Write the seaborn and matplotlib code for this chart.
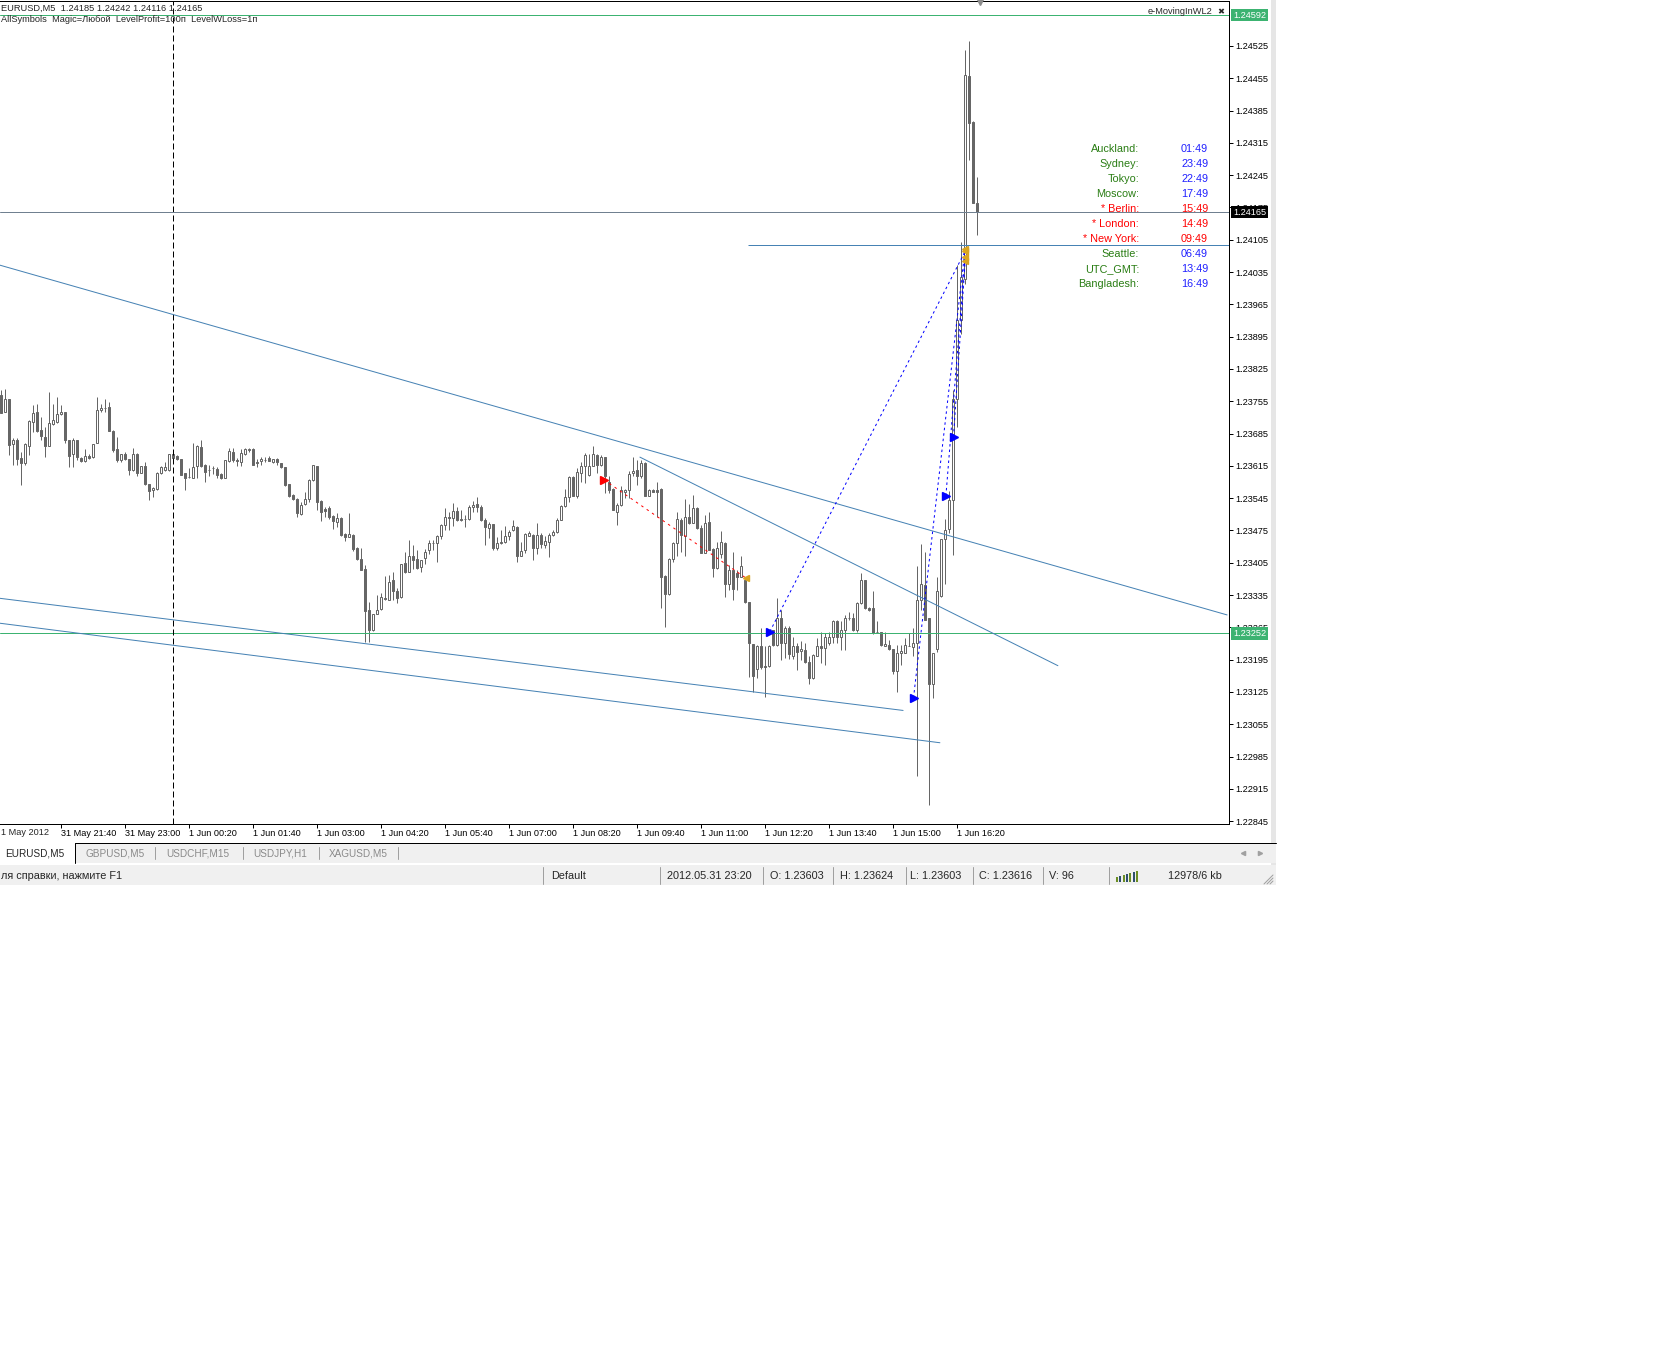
import numpy as np
import matplotlib
matplotlib.use("Agg")
import matplotlib.pyplot as plt
from matplotlib.patches import Rectangle
from matplotlib.lines import Line2D
import seaborn as sns

# ---- EURUSD M5 bars (open, high, low, close), oldest first ----
open_ = [1.23769, 1.23732, 1.23761, 1.23662, 1.23672, 1.23633, 1.23622, 1.23659, 1.23711, 1.23731,
         1.23693, 1.23678, 1.23659, 1.23705, 1.23711, 1.23727, 1.23731, 1.23671, 1.23640, 1.23671,
         1.23633, 1.23626, 1.23636, 1.23635, 1.23664, 1.23736, 1.23740, 1.23742, 1.23691, 1.23652,
         1.23628, 1.23641, 1.23630, 1.23606, 1.23641, 1.23600, 1.23615, 1.23575, 1.23563, 1.23565,
         1.23599, 1.23606, 1.23606, 1.23641, 1.23636, 1.23630, 1.23599, 1.23590, 1.23589, 1.23615,
         1.23655, 1.23617, 1.23606, 1.23610, 1.23608, 1.23597, 1.23589, 1.23626, 1.23646, 1.23628,
         1.23624, 1.23641, 1.23649, 1.23651, 1.23624, 1.23626, 1.23628, 1.23633, 1.23624, 1.23630,
         1.23621, 1.23612, 1.23576, 1.23552, 1.23543, 1.23510, 1.23532, 1.23543, 1.23584, 1.23615,
         1.23539, 1.23522, 1.23523, 1.23507, 1.23494, 1.23503, 1.23467, 1.23460, 1.23465, 1.23436,
         1.23413, 1.23392, 1.23303, 1.23259, 1.23293, 1.23305, 1.23329, 1.23325, 1.23367, 1.23343,
         1.23330, 1.23405, 1.23384, 1.23420, 1.23413, 1.23396, 1.23415, 1.23433, 1.23448, 1.23448,
         1.23462, 1.23486, 1.23504, 1.23502, 1.23518, 1.23499, 1.23500, 1.23500, 1.23526, 1.23532,
         1.23526, 1.23498, 1.23480, 1.23488, 1.23438, 1.23447, 1.23450, 1.23462, 1.23475, 1.23483,
         1.23420, 1.23432, 1.23464, 1.23466, 1.23437, 1.23466, 1.23444, 1.23449, 1.23466, 1.23471,
         1.23498, 1.23527, 1.23547, 1.23590, 1.23549, 1.23599, 1.23614, 1.23596, 1.23615, 1.23639,
         1.23617, 1.23634, 1.23581, 1.23564, 1.23514, 1.23531, 1.23559, 1.23563, 1.23599, 1.23606,
         1.23592, 1.23622, 1.23550, 1.23563, 1.23563, 1.23564, 1.23377, 1.23338, 1.23413, 1.23448,
         1.23498, 1.23463, 1.23504, 1.23492, 1.23523, 1.23480, 1.23427, 1.23494, 1.23435, 1.23393,
         1.23424, 1.23448, 1.23359, 1.23390, 1.23383, 1.23375, 1.23367, 1.23321, 1.23229, 1.23175,
         1.23225, 1.23182, 1.23182, 1.23260, 1.23227, 1.23285, 1.23231, 1.23263, 1.23203, 1.23224,
         1.23213, 1.23216, 1.23191, 1.23155, 1.23203, 1.23224, 1.23220, 1.23231, 1.23244, 1.23278,
         1.23245, 1.23260, 1.23285, 1.23285, 1.23260, 1.23318, 1.23367, 1.23307, 1.23307, 1.23256,
         1.23256, 1.23224, 1.23227, 1.23218, 1.23170, 1.23209, 1.23209, 1.23225, 1.23222, 1.23232,
         1.23325, 1.23357, 1.23285, 1.23142, 1.23218, 1.23332, 1.23456, 1.23478, 1.23540, 1.23760,
         1.23931, 1.24021, 1.24460, 1.24361, 1.24185]
high_ = [1.23779, 1.23781, 1.23761, 1.23675, 1.23675, 1.23646, 1.23664, 1.23714, 1.23747, 1.23749,
         1.23722, 1.23700, 1.23776, 1.23750, 1.23765, 1.23747, 1.23731, 1.23671, 1.23675, 1.23672,
         1.23635, 1.23651, 1.23640, 1.23662, 1.23765, 1.23750, 1.23761, 1.23754, 1.23693, 1.23678,
         1.23641, 1.23646, 1.23631, 1.23653, 1.23642, 1.23615, 1.23624, 1.23576, 1.23569, 1.23602,
         1.23615, 1.23624, 1.23641, 1.23649, 1.23639, 1.23631, 1.23600, 1.23610, 1.23665, 1.23660,
         1.23672, 1.23619, 1.23617, 1.23615, 1.23612, 1.23599, 1.23628, 1.23653, 1.23653, 1.23633,
         1.23651, 1.23653, 1.23654, 1.23653, 1.23629, 1.23635, 1.23635, 1.23636, 1.23631, 1.23633,
         1.23622, 1.23612, 1.23576, 1.23554, 1.23545, 1.23537, 1.23559, 1.23586, 1.23617, 1.23615,
         1.23540, 1.23525, 1.23527, 1.23509, 1.23512, 1.23505, 1.23469, 1.23512, 1.23467, 1.23440,
         1.23438, 1.23400, 1.23320, 1.23293, 1.23336, 1.23340, 1.23376, 1.23379, 1.23386, 1.23350,
         1.23403, 1.23428, 1.23454, 1.23444, 1.23433, 1.23412, 1.23435, 1.23454, 1.23454, 1.23466,
         1.23488, 1.23524, 1.23516, 1.23535, 1.23526, 1.23519, 1.23509, 1.23531, 1.23538, 1.23548,
         1.23531, 1.23501, 1.23493, 1.23490, 1.23461, 1.23477, 1.23485, 1.23477, 1.23498, 1.23485,
         1.23451, 1.23470, 1.23473, 1.23468, 1.23491, 1.23470, 1.23462, 1.23469, 1.23476, 1.23502,
         1.23531, 1.23564, 1.23592, 1.23592, 1.23610, 1.23624, 1.23642, 1.23641, 1.23658, 1.23641,
         1.23639, 1.23635, 1.23592, 1.23567, 1.23534, 1.23572, 1.23564, 1.23603, 1.23635, 1.23627,
         1.23627, 1.23624, 1.23564, 1.23565, 1.23579, 1.23567, 1.23379, 1.23415, 1.23449, 1.23514,
         1.23502, 1.23543, 1.23533, 1.23552, 1.23525, 1.23487, 1.23509, 1.23514, 1.23437, 1.23449,
         1.23473, 1.23449, 1.23401, 1.23429, 1.23390, 1.23419, 1.23370, 1.23321, 1.23229, 1.23227,
         1.23263, 1.23224, 1.23227, 1.23260, 1.23328, 1.23303, 1.23267, 1.23267, 1.23245, 1.23231,
         1.23235, 1.23231, 1.23202, 1.23208, 1.23242, 1.23256, 1.23253, 1.23256, 1.23280, 1.23280,
         1.23278, 1.23292, 1.23299, 1.23297, 1.23319, 1.23383, 1.23368, 1.23309, 1.23343, 1.23278,
         1.23256, 1.23256, 1.23237, 1.23218, 1.23227, 1.23227, 1.23242, 1.23253, 1.23263, 1.23397,
         1.23446, 1.23428, 1.23285, 1.23209, 1.23374, 1.23456, 1.23500, 1.23560, 1.23780, 1.24050,
         1.24101, 1.24517, 1.24536, 1.24363, 1.24242]
low_ = [1.23729, 1.23732, 1.23639, 1.23617, 1.23617, 1.23574, 1.23617, 1.23639, 1.23689, 1.23689,
        1.23671, 1.23635, 1.23659, 1.23704, 1.23707, 1.23725, 1.23664, 1.23612, 1.23612, 1.23628,
        1.23624, 1.23624, 1.23630, 1.23633, 1.23664, 1.23732, 1.23732, 1.23691, 1.23646, 1.23624,
        1.23624, 1.23628, 1.23595, 1.23605, 1.23592, 1.23599, 1.23574, 1.23541, 1.23547, 1.23563,
        1.23597, 1.23605, 1.23605, 1.23631, 1.23628, 1.23595, 1.23563, 1.23588, 1.23589, 1.23588,
        1.23613, 1.23579, 1.23592, 1.23597, 1.23588, 1.23586, 1.23588, 1.23623, 1.23624, 1.23615,
        1.23615, 1.23639, 1.23646, 1.23617, 1.23612, 1.23617, 1.23624, 1.23626, 1.23622, 1.23617,
        1.23610, 1.23571, 1.23548, 1.23541, 1.23505, 1.23509, 1.23530, 1.23537, 1.23582, 1.23519,
        1.23496, 1.23505, 1.23499, 1.23478, 1.23483, 1.23462, 1.23453, 1.23460, 1.23431, 1.23411,
        1.23389, 1.23233, 1.23233, 1.23257, 1.23293, 1.23303, 1.23324, 1.23325, 1.23325, 1.23318,
        1.23329, 1.23383, 1.23384, 1.23392, 1.23392, 1.23384, 1.23403, 1.23423, 1.23433, 1.23406,
        1.23457, 1.23477, 1.23475, 1.23485, 1.23495, 1.23495, 1.23483, 1.23498, 1.23516, 1.23516,
        1.23495, 1.23444, 1.23459, 1.23433, 1.23433, 1.23446, 1.23448, 1.23455, 1.23473, 1.23406,
        1.23419, 1.23426, 1.23462, 1.23412, 1.23423, 1.23437, 1.23437, 1.23417, 1.23463, 1.23469,
        1.23497, 1.23526, 1.23536, 1.23549, 1.23545, 1.23581, 1.23577, 1.23593, 1.23614, 1.23599,
        1.23615, 1.23557, 1.23556, 1.23520, 1.23487, 1.23528, 1.23545, 1.23545, 1.23593, 1.23574,
        1.23588, 1.23549, 1.23549, 1.23559, 1.23504, 1.23307, 1.23266, 1.23336, 1.23406, 1.23419,
        1.23429, 1.23419, 1.23489, 1.23491, 1.23478, 1.23426, 1.23426, 1.23432, 1.23375, 1.23391,
        1.23415, 1.23331, 1.23346, 1.23325, 1.23346, 1.23374, 1.23318, 1.23157, 1.23126, 1.23155,
        1.23175, 1.23115, 1.23180, 1.23224, 1.23224, 1.23195, 1.23198, 1.23196, 1.23196, 1.23173,
        1.23195, 1.23188, 1.23143, 1.23153, 1.23202, 1.23188, 1.23184, 1.23227, 1.23231, 1.23231,
        1.23216, 1.23216, 1.23282, 1.23258, 1.23256, 1.23316, 1.23305, 1.23300, 1.23251, 1.23253,
        1.23225, 1.23224, 1.23215, 1.23165, 1.23124, 1.23184, 1.23209, 1.23224, 1.23202, 1.22943,
        1.23303, 1.23281, 1.22881, 1.23112, 1.23211, 1.23330, 1.23359, 1.23470, 1.23422, 1.23700,
        1.23900, 1.24010, 1.24278, 1.24185, 1.24116]
close_ = [1.23729, 1.23761, 1.23660, 1.23671, 1.23631, 1.23622, 1.23662, 1.23713, 1.23729, 1.23691,
          1.23680, 1.23658, 1.23707, 1.23714, 1.23727, 1.23731, 1.23671, 1.23637, 1.23671, 1.23635,
          1.23626, 1.23637, 1.23633, 1.23662, 1.23737, 1.23740, 1.23740, 1.23691, 1.23649, 1.23628,
          1.23641, 1.23630, 1.23606, 1.23641, 1.23600, 1.23615, 1.23575, 1.23561, 1.23566, 1.23599,
          1.23612, 1.23612, 1.23641, 1.23633, 1.23629, 1.23595, 1.23589, 1.23590, 1.23612, 1.23658,
          1.23615, 1.23602, 1.23606, 1.23610, 1.23595, 1.23588, 1.23628, 1.23647, 1.23628, 1.23626,
          1.23644, 1.23651, 1.23652, 1.23617, 1.23621, 1.23630, 1.23628, 1.23626, 1.23630, 1.23624,
          1.23612, 1.23574, 1.23550, 1.23543, 1.23512, 1.23530, 1.23543, 1.23584, 1.23617, 1.23537,
          1.23516, 1.23518, 1.23504, 1.23496, 1.23503, 1.23465, 1.23460, 1.23467, 1.23434, 1.23413,
          1.23389, 1.23300, 1.23260, 1.23293, 1.23303, 1.23331, 1.23327, 1.23363, 1.23343, 1.23329,
          1.23403, 1.23384, 1.23420, 1.23410, 1.23394, 1.23412, 1.23428, 1.23448, 1.23448, 1.23462,
          1.23486, 1.23504, 1.23502, 1.23518, 1.23497, 1.23498, 1.23500, 1.23526, 1.23531, 1.23526,
          1.23497, 1.23483, 1.23490, 1.23438, 1.23448, 1.23450, 1.23464, 1.23472, 1.23485, 1.23419,
          1.23431, 1.23467, 1.23470, 1.23437, 1.23466, 1.23446, 1.23453, 1.23466, 1.23471, 1.23498,
          1.23527, 1.23547, 1.23590, 1.23550, 1.23601, 1.23615, 1.23639, 1.23615, 1.23640, 1.23617,
          1.23634, 1.23592, 1.23562, 1.23520, 1.23531, 1.23562, 1.23562, 1.23598, 1.23605, 1.23592,
          1.23622, 1.23550, 1.23562, 1.23559, 1.23559, 1.23375, 1.23338, 1.23413, 1.23448, 1.23500,
          1.23466, 1.23504, 1.23491, 1.23523, 1.23480, 1.23427, 1.23492, 1.23433, 1.23393, 1.23437,
          1.23449, 1.23359, 1.23390, 1.23348, 1.23375, 1.23397, 1.23319, 1.23231, 1.23159, 1.23225,
          1.23179, 1.23179, 1.23224, 1.23227, 1.23285, 1.23231, 1.23263, 1.23208, 1.23225, 1.23211,
          1.23218, 1.23189, 1.23155, 1.23206, 1.23225, 1.23221, 1.23245, 1.23245, 1.23278, 1.23245,
          1.23260, 1.23285, 1.23285, 1.23260, 1.23318, 1.23367, 1.23307, 1.23302, 1.23253, 1.23254,
          1.23227, 1.23229, 1.23218, 1.23170, 1.23209, 1.23214, 1.23227, 1.23225, 1.23232, 1.23325,
          1.23359, 1.23281, 1.23142, 1.23209, 1.23343, 1.23456, 1.23476, 1.23540, 1.23760, 1.23931,
          1.24024, 1.24462, 1.24359, 1.24185, 1.24165]

# time axis: bar 43 is 1 Jun 00:00, one label every 16 bars
tick_bars = [15, 31, 47, 63, 79, 95, 111, 127, 143, 159, 175, 191, 207, 223, 239]
tick_labels = ['31 May 21:40', '31 May 23:00', '1 Jun 00:20', '1 Jun 01:40', '1 Jun 03:00',
               '1 Jun 04:20', '1 Jun 05:40', '1 Jun 07:00', '1 Jun 08:20', '1 Jun 09:40',
               '1 Jun 11:00', '1 Jun 12:20', '1 Jun 13:40', '1 Jun 15:00', '1 Jun 16:20']
day_sep_bar = 43
price_ticks = [1.22845, 1.22915, 1.22985, 1.23055, 1.23125, 1.23195, 1.23265, 1.23335, 1.23405,
               1.23475, 1.23545, 1.23615, 1.23685, 1.23755, 1.23825, 1.23895, 1.23965, 1.24035,
               1.24105, 1.24175, 1.24245, 1.24315, 1.24385, 1.24455, 1.24525]

# trend lines (bar, price) -> (bar, price)
trend_lines = [((-0.2, 1.24050), (306.6, 1.23292)),
               ((159.8, 1.23634), (264.3, 1.23182)),
               ((-0.2, 1.23328), (225.6, 1.23085)),
               ((-0.2, 1.23274), (234.8, 1.23015))]
ask_level, bid_level, green_level = 1.24592, 1.24165, 1.23252
hline_level, hline_start = 1.24093, 186.8

# trades: open bar, open price, close bar, close price
buy_open_bar = [192.3, 228.2, 236.3, 238.2]
buy_open_px = [1.23256, 1.23112, 1.23550, 1.23678]
buy_close_bar = [241.1, 241.1, 241.1, 241.1]
buy_close_px = [1.24080, 1.24085, 1.24068, 1.24058]
sell_open_bar, sell_open_px = 150.8, 1.23585
sell_close_bar, sell_close_px = 186.3, 1.23372

clock_names = ['Auckland:', 'Sydney:', 'Tokyo:', 'Moscow:', '* Berlin:', '* London:',
               '* New York:', 'Seattle:', 'UTC_GMT:', 'Bangladesh:']
clock_times = ['01:49', '23:49', '22:49', '17:49', '15:49', '14:49', '09:49', '06:49', '13:49', '16:49']
clock_open = [False, False, False, False, True, True, True, False, False, False]

W, H = 1676, 1356
sns.set_style("white")
plt.rcParams['font.family'] = ['Liberation Sans', 'DejaVu Sans']

GRAY = '#666666'
STEEL = '#4682b4'
GREEN = '#3cb371'
PX = 0.72  # one pixel in points


def fx(px):
    return px / W


def fy(py):
    return 1 - py / H


fig = plt.figure(figsize=(W / 100, H / 100), dpi=100)
fig.patch.set_facecolor('white')
ax = fig.add_axes([0, fy(824), fx(1229), 823 / H])
ax.set_facecolor('white')

o = np.array(open_)
h = np.array(high_)
l = np.array(low_)
c = np.array(close_)
idx = np.arange(len(c))
bull = c >= o

# candles
ax.vlines(idx, l, h, color=GRAY, lw=PX, zorder=3)
ax.bar(idx, np.abs(c - o), bottom=np.minimum(o, c), width=0.5,
       color=np.where(bull, 'white', GRAY), edgecolor=GRAY, linewidth=PX, zorder=4)

# levels
ax.axhline(ask_level, color=GREEN, lw=PX, zorder=5)
ax.axhline(green_level, color=GREEN, lw=PX, zorder=5)
ax.axvline(day_sep_bar, color='black', lw=PX, ls=(0, (6, 3)), zorder=5)
ax.hlines(hline_level, hline_start, 320, color=STEEL, lw=PX, zorder=5)

for (x0, y0), (x1, y1) in trend_lines:
    sns.lineplot(x=[x0, x1], y=[y0, y1], ax=ax, color=STEEL, lw=PX, sort=False,
                 estimator=None, zorder=5)

for xb, yb, xe, ye in zip(buy_open_bar, buy_open_px, buy_close_bar, buy_close_px):
    ax.plot([xb, xe], [yb, ye], color='#0000ff', lw=PX, ls=(0, (2.5, 3)), zorder=6)
ax.plot([sell_open_bar, sell_close_bar], [sell_open_px, sell_close_px], color='#ff0000',
        lw=PX, ls=(0, (2.5, 4)), zorder=6)
ax.plot(buy_open_bar, buy_open_px, ls='none', marker='>', ms=5.5, color='#0000ff', zorder=7)
ax.plot(buy_close_bar, buy_close_px, ls='none', marker='<', ms=5, color='#daa520', zorder=7)
ax.plot([sell_open_bar], [sell_open_px], ls='none', marker='>', ms=5.5, color='#ff0000', zorder=7)
ax.plot([sell_close_bar], [sell_close_px], ls='none', marker='<', ms=5, color='#daa520', zorder=7)

ax.set_xlim(-0.175, 307.075)
ax.set_ylim(1.228389, 1.246225)

for s in ['top', 'right', 'bottom']:
    ax.spines[s].set_visible(True)
    ax.spines[s].set_color('black')
    ax.spines[s].set_linewidth(PX)
ax.spines['left'].set_visible(False)

ax.yaxis.tick_right()
ax.set_yticks(price_ticks)
ax.set_yticklabels([f'{p:.5f}' for p in price_ticks])
ax.tick_params(axis='y', which='both', direction='out', length=3, width=PX, pad=1.5,
               labelsize=6.6, colors='black', right=True, left=False)
ax.set_xticks(tick_bars)
ax.set_xticklabels(tick_labels)
ax.tick_params(axis='x', direction='out', length=3, width=PX, pad=0.6, labelsize=6.6,
               colors='black', bottom=True)
for lab in ax.get_xticklabels():
    lab.set_ha('left')
ax.text(0.1, -0.0109, '1 May 2012', transform=ax.get_xaxis_transform(), fontsize=6.6,
        ha='left', va='center', clip_on=False)
ax.grid(False)

# price tags on the right scale
tag_tr = ax.get_yaxis_transform()
for lvl, bg in [(ask_level, GREEN), (bid_level, 'black'), (green_level, GREEN)]:
    ax.text(1.0035, lvl, f'{lvl:.5f}', transform=tag_tr, fontsize=6.6, color='white',
            ha='left', va='center', clip_on=False, zorder=10,
            bbox=dict(boxstyle='square,pad=0.2', fc=bg, ec='none'))
ax.axhline(bid_level, color='#708090', lw=PX, zorder=6)

# shift marker
ax.plot([244.8], [1.246225], marker='v', ms=6, color='#8c8c8c', ls='none', clip_on=False, zorder=8)

# header texts
fig.text(fx(1), fy(8), 'EURUSD,M5  1.24185 1.24242 1.24116 1.24165', fontsize=6.7, va='center')
fig.text(fx(1), fy(19), 'AllSymbols  Magic=Любой  LevelProfit=100п  LevelWLoss=1п',
         fontsize=6.7, va='center')
fig.text(fx(1212), fy(12), 'e-MovingInWL2', fontsize=6.7, ha='right', va='center')
fig.text(fx(1221), fy(12), '\u2716', fontsize=6, ha='center', va='center', family='DejaVu Sans')

# world clock panel
for i, (nm, tm, op) in enumerate(zip(clock_names, clock_times, clock_open)):
    yy = 149 + i * 15
    fig.text(fx(1139), fy(yy), nm, fontsize=7.8, ha='right', va='center',
             color='#ff0000' if op else '#2a7d14', zorder=1)
    fig.text(fx(1181), fy(yy), tm, fontsize=7.8, ha='left', va='center',
             color='#ff0000' if op else '#2020ff', zorder=1)

# window decorations: right border, tab bar, status bar
fig.add_artist(Rectangle((fx(1271), fy(866)), fx(5), 866 / H, transform=fig.transFigure,
                         fc='#e6e6e6', ec='none'))
fig.add_artist(Rectangle((0, fy(863)), fx(1276), 20 / H, transform=fig.transFigure,
                         fc='#f0f0f0', ec='none'))
fig.add_artist(Rectangle((0, fy(863)), fx(75), 20 / H, transform=fig.transFigure,
                         fc='white', ec='none'))
fig.add_artist(Line2D([fx(75), fx(1276)], [fy(843), fy(843)], color='black', lw=PX))
fig.add_artist(Line2D([fx(75), fx(75)], [fy(843), fy(863)], color='black', lw=PX))
fig.text(fx(5), fy(853), 'EURUSD,M5', fontsize=7.2, va='center')
for xt, tt in [(86, 'GBPUSD,M5'), (166, 'USDCHF,M15'), (253, 'USDJPY,H1'), (329, 'XAGUSD,M5')]:
    fig.text(fx(xt), fy(853), tt, fontsize=7.2, va='center', color='#8a8a8a')
for xs in [155, 243, 319, 398]:
    fig.add_artist(Line2D([fx(xs), fx(xs)], [fy(847), fy(859)], color='#a0a0a0', lw=PX))
fig.add_artist(Line2D([fx(1243)], [fy(853)], marker='<', ms=3, color='#a0a0a0', ls='none'))
fig.add_artist(Line2D([fx(1260)], [fy(853)], marker='>', ms=3, color='#a0a0a0', ls='none'))

fig.add_artist(Rectangle((0, fy(885)), fx(1276), 20 / H, transform=fig.transFigure,
                         fc='#f0f0f0', ec='none'))
for xs in [543, 660, 763, 833, 906, 973, 1043, 1109]:
    fig.add_artist(Line2D([fx(xs), fx(xs)], [fy(867), fy(884)], color='#a0a0a0', lw=PX))
status = [(1, 'ля справки, нажмите F1'), (551, 'Default'), (667, '2012.05.31 23:20'),
          (770, 'O: 1.23603'), (840, 'H: 1.23624'), (910, 'L: 1.23603'), (979, 'C: 1.23616'),
          (1049, 'V: 96'), (1168, '12978/6 kb')]
for xt, tt in status:
    fig.text(fx(xt), fy(876), tt, fontsize=7.8, va='center')
for k in range(7):
    fig.add_artist(Rectangle((fx(1116 + k * 3.3), fy(882)), fx(2), (5 + k) / H,
                             transform=fig.transFigure,
                             fc='#6b8e23' if k % 2 == 0 else '#2f4f6f', ec='none'))
for k in range(3):
    d = 3 + k * 3
    fig.add_artist(Line2D([fx(1273 - d), fx(1273)], [fy(884), fy(884 - d)], color='#a0a0a0', lw=PX))

fig.savefig('out.png', dpi=100, facecolor='white')
